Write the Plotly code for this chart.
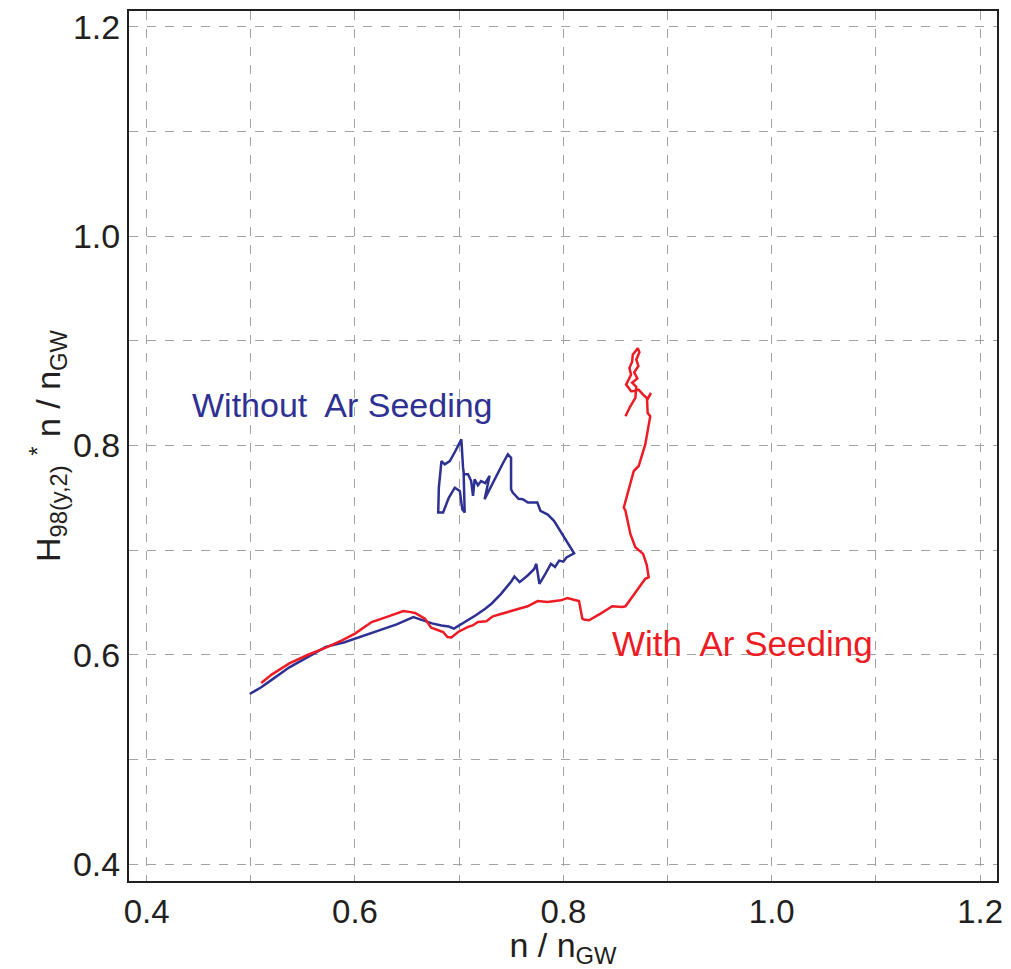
import plotly.graph_objects as go

# Discharge trajectory without Ar seeding
blue_x = [0.499, 0.510, 0.520, 0.537, 0.555, 0.572, 0.590, 0.605, 0.623, 0.640,
          0.656, 0.665, 0.674, 0.683, 0.690, 0.695, 0.705, 0.716, 0.725, 0.731,
          0.740, 0.745, 0.750, 0.753, 0.758, 0.766, 0.772, 0.774, 0.777, 0.782,
          0.788, 0.792, 0.796, 0.800, 0.803, 0.8103, 0.806, 0.801, 0.796, 0.791,
          0.785, 0.778, 0.775, 0.766, 0.761, 0.757, 0.7514, 0.7498, 0.7498, 0.7467,
          0.742, 0.735, 0.7244, 0.7292, 0.725, 0.721, 0.718, 0.7148, 0.7133, 0.7115,
          0.7085, 0.7043, 0.7053, 0.703, 0.7006, 0.6958, 0.690, 0.6846, 0.6799, 0.6805,
          0.683, 0.6862, 0.691, 0.696, 0.7021, 0.7037, 0.7045]
blue_y = [0.5625, 0.569, 0.576, 0.588, 0.598, 0.6075, 0.612, 0.617, 0.6227, 0.629,
          0.636, 0.633, 0.630, 0.628, 0.627, 0.625, 0.631, 0.6377, 0.644, 0.6488,
          0.658, 0.664, 0.670, 0.6748, 0.6694, 0.676, 0.682, 0.6869, 0.6678, 0.676,
          0.6869, 0.684, 0.690, 0.689, 0.693, 0.697, 0.704, 0.7122, 0.720, 0.728,
          0.734, 0.7376, 0.7455, 0.7455, 0.7487, 0.749, 0.755, 0.7582, 0.7883, 0.7915,
          0.783, 0.769, 0.7487, 0.771, 0.764, 0.766, 0.762, 0.7677, 0.7518, 0.766,
          0.7725, 0.7725, 0.736, 0.739, 0.7566, 0.7597, 0.750, 0.736, 0.736, 0.760,
          0.7851, 0.782, 0.7851, 0.794, 0.8058, 0.7788, 0.773]

# Discharge trajectory with Ar seeding
red_x = [0.510, 0.520, 0.537, 0.555, 0.572, 0.588, 0.600, 0.616, 0.630, 0.6465,
         0.652, 0.6576, 0.6672, 0.6729, 0.6799, 0.6846, 0.6888, 0.6926, 0.699, 0.7085,
         0.713, 0.718, 0.726, 0.7324, 0.740, 0.7498, 0.758, 0.7657, 0.7753, 0.7848,
         0.7975, 0.8039, 0.810, 0.815, 0.8182, 0.8198, 0.8246, 0.830, 0.8357, 0.8469,
         0.8564, 0.8596, 0.866, 0.8755, 0.8786, 0.8819, 0.880, 0.8765, 0.8691, 0.8643,
         0.862, 0.8596, 0.858, 0.8628, 0.8676, 0.8723, 0.8739, 0.8786, 0.8834, 0.8809,
         0.8803, 0.8841, 0.881, 0.8765, 0.8723, 0.868, 0.865, 0.8602, 0.8618, 0.865,
         0.8634, 0.866, 0.8666, 0.8714, 0.873, 0.870, 0.872, 0.868, 0.871, 0.866,
         0.870, 0.8691, 0.864, 0.8596]
red_y = [0.573, 0.581, 0.5917, 0.600, 0.6069, 0.614, 0.6202, 0.6313, 0.636, 0.6418,
         0.641, 0.6399, 0.6345, 0.626, 0.6234, 0.6218, 0.617, 0.6165, 0.6218, 0.6266,
         0.628, 0.6313, 0.632, 0.6367, 0.639, 0.6418, 0.644, 0.6463, 0.6513, 0.6504,
         0.652, 0.6542, 0.6525, 0.6513, 0.6345, 0.6336, 0.633, 0.636, 0.6393, 0.6463,
         0.6456, 0.6463, 0.655, 0.6678, 0.6726, 0.6741, 0.686, 0.6964, 0.7027, 0.7154,
         0.725, 0.7376, 0.7407, 0.7583, 0.7756, 0.7804, 0.7851, 0.801, 0.828, 0.8311,
         0.8439, 0.8502, 0.8445, 0.8486, 0.8533, 0.852, 0.8518, 0.8582, 0.8613, 0.8677,
         0.874, 0.880, 0.8867, 0.893, 0.889, 0.882, 0.876, 0.870, 0.864, 0.860,
         0.856, 0.8454, 0.837, 0.828]

tick_vals = [0.4, 0.6, 0.8, 1.0, 1.2]
tick_text = ["0.4", "0.6", "0.8", "1.0", "1.2"]

BLUE = "#2E3192"
RED = "#ED1C24"
INK = "#231F20"
GRID = "#a3a3a3"
FONT = "Liberation Sans, Arial, sans-serif"

fig = go.Figure()
fig.add_trace(go.Scatter(x=blue_x, y=blue_y, mode="lines",
                         line=dict(color=BLUE, width=2.5), showlegend=False))
fig.add_trace(go.Scatter(x=red_x, y=red_y, mode="lines",
                         line=dict(color=RED, width=2.5), showlegend=False))

fig.add_annotation(x=0.5878, y=0.8384, text="Without  Ar Seeding", showarrow=False,
                   font=dict(family=FONT, size=34, color=BLUE))
fig.add_annotation(x=0.972, y=0.611, text="With  Ar Seeding", showarrow=False,
                   font=dict(family=FONT, size=35, color=RED))

axis_common = dict(
    tickvals=tick_vals, ticktext=tick_text,
    showgrid=True, gridcolor=GRID, griddash="dash", gridwidth=1,
    minor=dict(dtick=0.1, tick0=0, showgrid=True, gridcolor=GRID,
               griddash="dash", gridwidth=1, ticks=""),
    showline=True, linecolor=INK, linewidth=2, mirror=True,
    ticks="", zeroline=False,
)

fig.update_xaxes(range=[0.3831, 1.2162],
                 tickfont=dict(family=FONT, size=33, color=INK),
                 title=dict(text="n / n<sub>GW</sub>", standoff=8,
                            font=dict(family=FONT, size=34, color=INK)),
                 **axis_common)
fig.update_yaxes(range=[0.3838, 1.2152],
                 tickfont=dict(family=FONT, size=34, color=INK),
                 title=dict(text="H<sub>98(y,2)</sub> <sup>*</sup> n / n<sub>GW</sub>", standoff=2,
                            font=dict(family=FONT, size=34, color=INK)),
                 **axis_common)

fig.update_layout(
    width=1011, height=969,
    margin=dict(l=129, r=9, t=8, b=87),
    plot_bgcolor="white", paper_bgcolor="white",
    font=dict(family=FONT, color=INK),
)

fig.write_html("out.html")
